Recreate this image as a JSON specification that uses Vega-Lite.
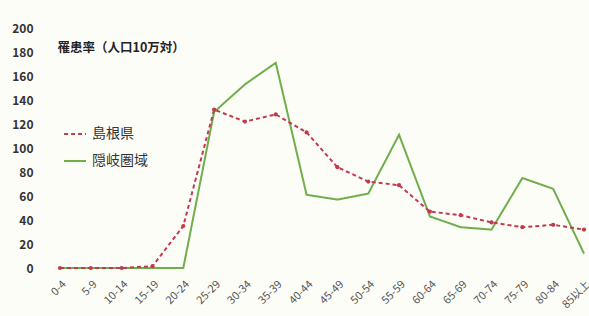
{
  "$schema": "https://vega.github.io/schema/vega-lite/v6.json",
  "width": 544,
  "height": 240,
  "autosize": {"type": "none"},
  "padding": {"left": 45, "top": 28, "right": 0, "bottom": 48},
  "background": "#fdfdf8",
  "config": {"view": {"stroke": null}, "font": "Noto Sans CJK JP"},
  "data": {
    "values": [
      {"age": "0-4", "region": "隠岐圏域", "rate": 0},
      {"age": "5-9", "region": "隠岐圏域", "rate": 0},
      {"age": "10-14", "region": "隠岐圏域", "rate": 0},
      {"age": "15-19", "region": "隠岐圏域", "rate": 0},
      {"age": "20-24", "region": "隠岐圏域", "rate": 0},
      {"age": "25-29", "region": "隠岐圏域", "rate": 130},
      {"age": "30-34", "region": "隠岐圏域", "rate": 153},
      {"age": "35-39", "region": "隠岐圏域", "rate": 171},
      {"age": "40-44", "region": "隠岐圏域", "rate": 61},
      {"age": "45-49", "region": "隠岐圏域", "rate": 57},
      {"age": "50-54", "region": "隠岐圏域", "rate": 62},
      {"age": "55-59", "region": "隠岐圏域", "rate": 111},
      {"age": "60-64", "region": "隠岐圏域", "rate": 43},
      {"age": "65-69", "region": "隠岐圏域", "rate": 34},
      {"age": "70-74", "region": "隠岐圏域", "rate": 32},
      {"age": "75-79", "region": "隠岐圏域", "rate": 75},
      {"age": "80-84", "region": "隠岐圏域", "rate": 66},
      {"age": "85以上", "region": "隠岐圏域", "rate": 12},
      {"age": "0-4", "region": "島根県", "rate": 0},
      {"age": "5-9", "region": "島根県", "rate": 0},
      {"age": "10-14", "region": "島根県", "rate": 0},
      {"age": "15-19", "region": "島根県", "rate": 1.5},
      {"age": "20-24", "region": "島根県", "rate": 35},
      {"age": "25-29", "region": "島根県", "rate": 132},
      {"age": "30-34", "region": "島根県", "rate": 122},
      {"age": "35-39", "region": "島根県", "rate": 128},
      {"age": "40-44", "region": "島根県", "rate": 113},
      {"age": "45-49", "region": "島根県", "rate": 84},
      {"age": "50-54", "region": "島根県", "rate": 72},
      {"age": "55-59", "region": "島根県", "rate": 69},
      {"age": "60-64", "region": "島根県", "rate": 47},
      {"age": "65-69", "region": "島根県", "rate": 44},
      {"age": "70-74", "region": "島根県", "rate": 38},
      {"age": "75-79", "region": "島根県", "rate": 34},
      {"age": "80-84", "region": "島根県", "rate": 36},
      {"age": "85以上", "region": "島根県", "rate": 32}
    ]
  },
  "encoding": {
    "x": {
      "field": "age", "type": "ordinal", "sort": null,
      "scale": {"type": "point", "range": [15, 539], "padding": 0},
      "axis": {"title": null, "labelAngle": -45, "labelFontSize": 11, "labelColor": "#555", "domain": false, "ticks": false, "labelPadding": 10}
    },
    "y": {
      "field": "rate", "type": "quantitative",
      "scale": {"domain": [0, 200]},
      "axis": {
        "values": [0, 20, 40, 60, 80, 100, 120, 140, 160, 180, 200],
        "grid": false, "domain": false, "ticks": false, "labelPadding": 12,
        "labelFontSize": 12, "labelFontWeight": "bold", "labelColor": "#333",
        "title": "罹患率（人口10万対）", "titleAngle": 0, "titleX": 12, "titleY": 19,
        "titleAlign": "left", "titleBaseline": "middle", "titleFontSize": 12.5, "titleFontWeight": "bold", "titleColor": "#222"
      }
    },
    "color": {
      "field": "region", "type": "nominal",
      "scale": {"domain": ["島根県", "隠岐圏域"], "range": ["#c23a4e", "#6fae4a"]},
      "legend": {"title": null, "orient": "none", "legendX": 18, "legendY": 94, "symbolType": "stroke", "symbolSize": 480, "symbolStrokeWidth": 2, "labelFontSize": 14, "labelColor": "#333", "rowPadding": 8, "labelOffset": 5}
    },
    "strokeDash": {
      "field": "region", "type": "nominal",
      "scale": {"domain": ["島根県", "隠岐圏域"], "range": [[4, 3], [1, 0]]},
      "legend": null
    }
  },
  "layer": [
    {"mark": {"type": "line", "strokeWidth": 2}, "transform": [{"filter": "datum.region === '隠岐圏域'"}]},
    {"mark": {"type": "line", "strokeWidth": 2}, "transform": [{"filter": "datum.region === '島根県'"}]},
    {"mark": {"type": "point", "filled": true, "size": 18, "opacity": 1}, "transform": [{"filter": "datum.region === '島根県'"}], "encoding": {"strokeDash": {"value": [1, 0]}}}
  ]
}
